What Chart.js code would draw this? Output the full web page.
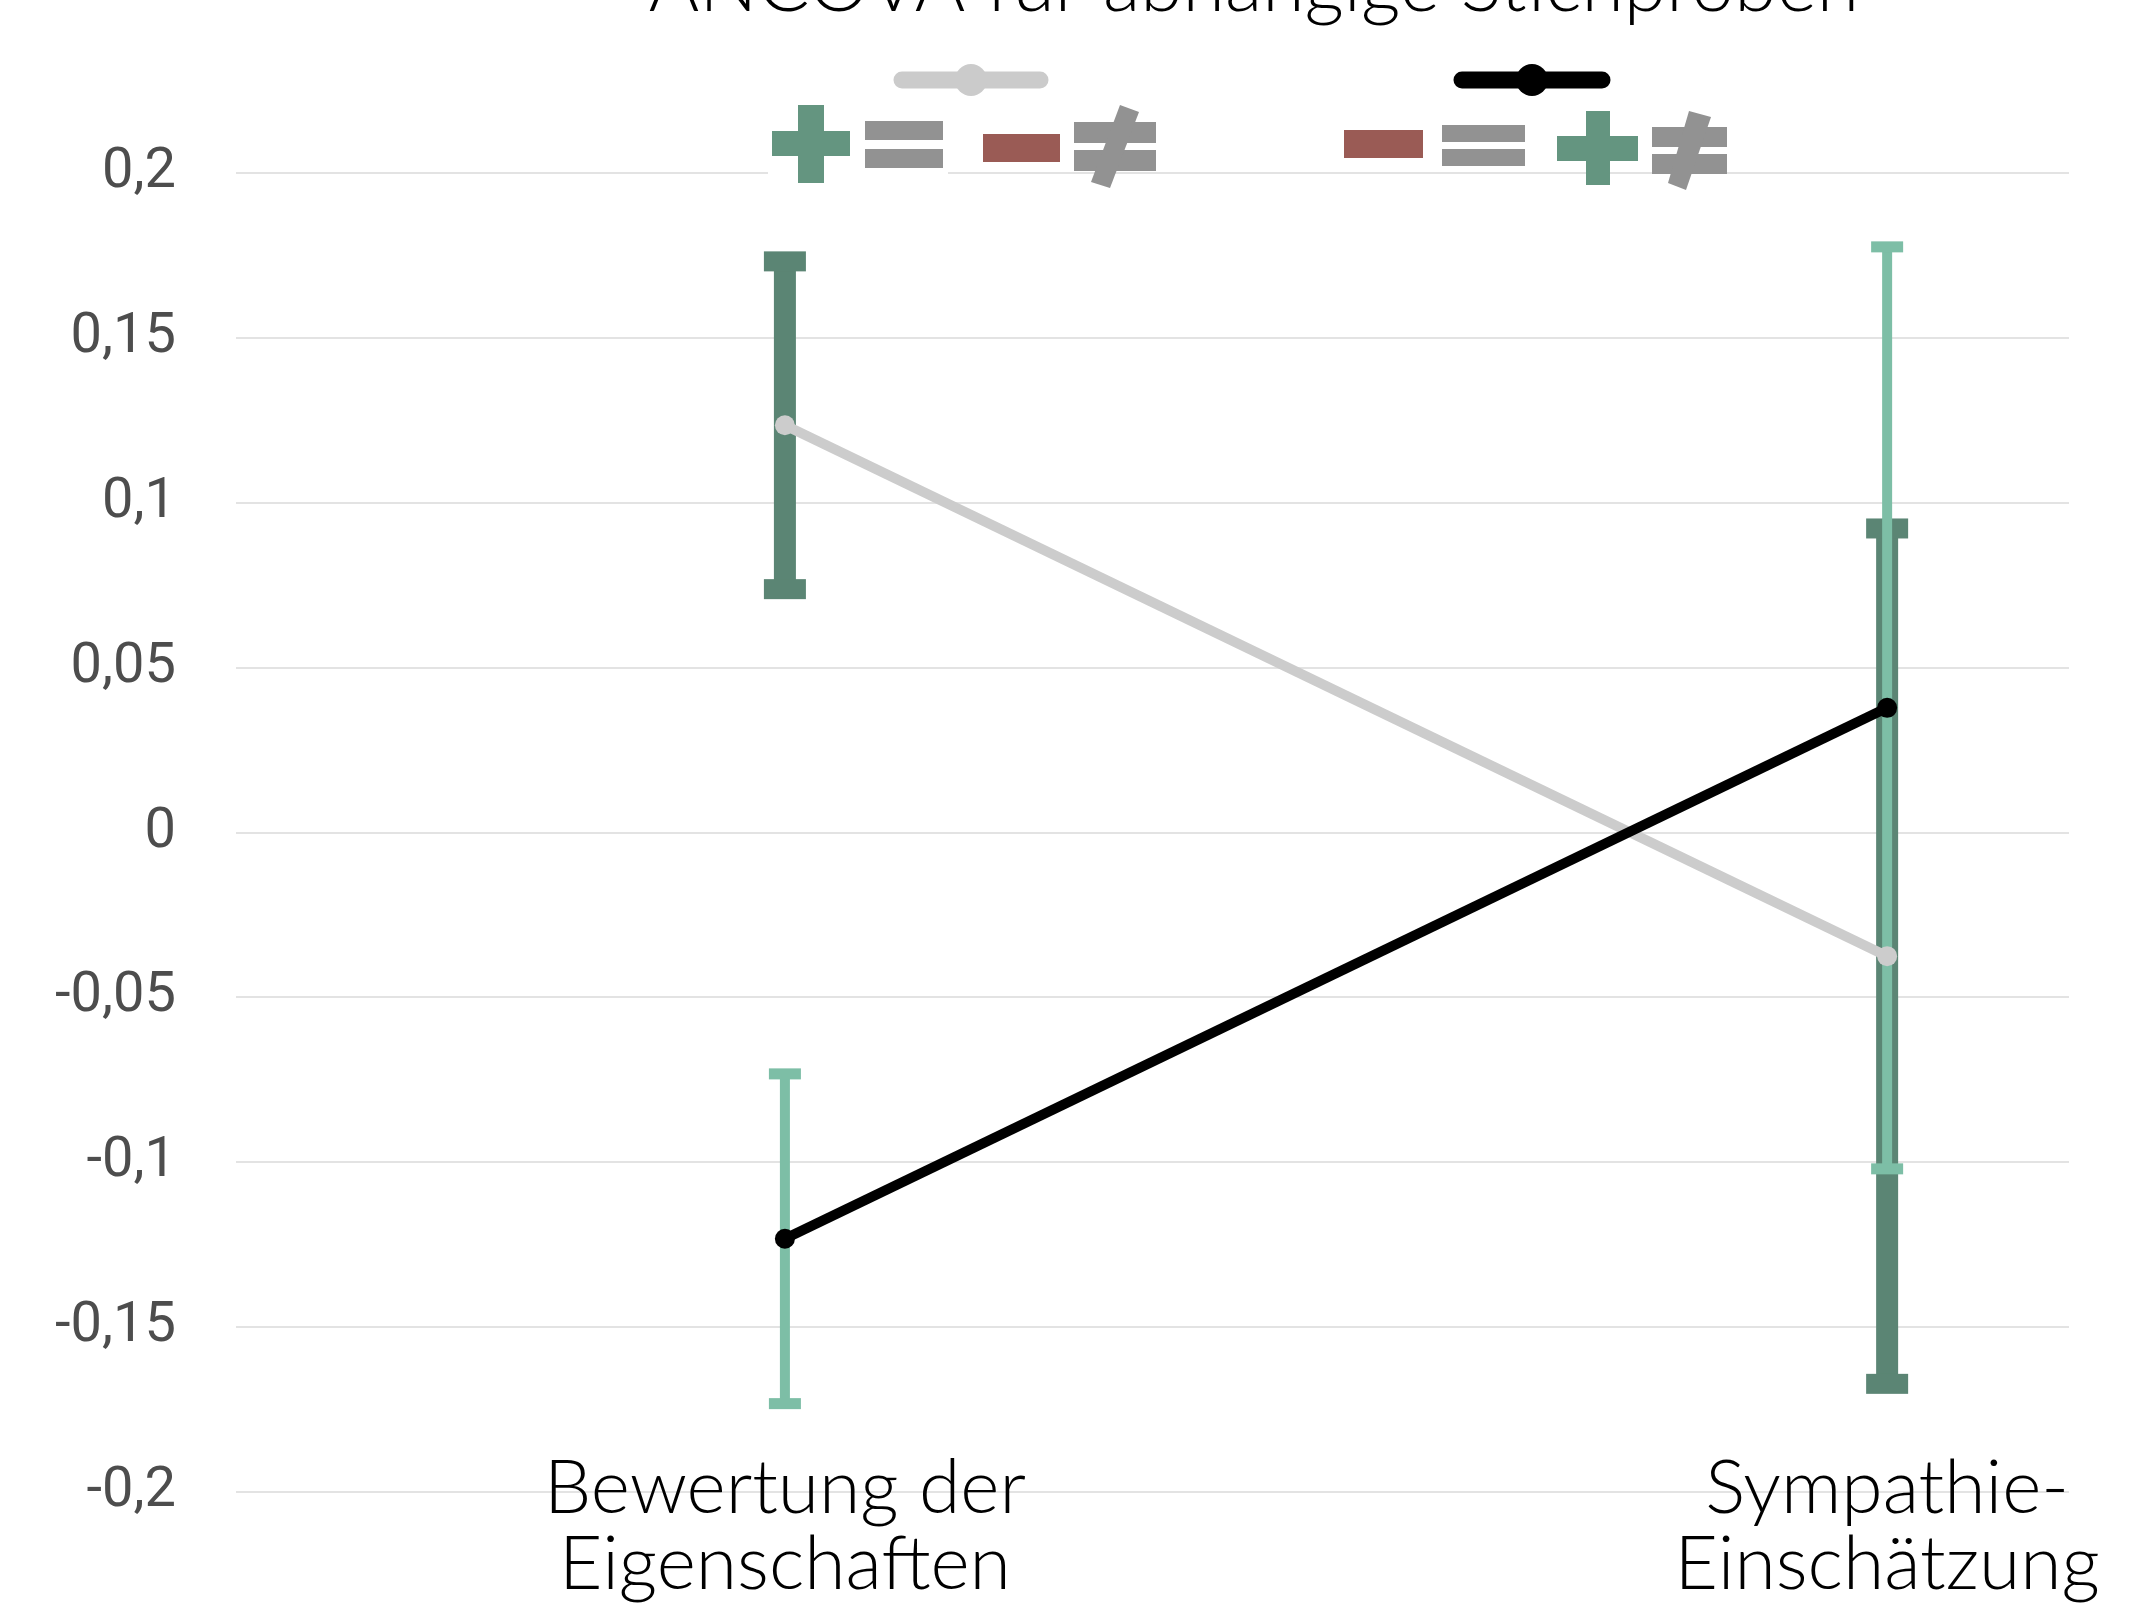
<!DOCTYPE html>
<html>
<head>
<meta charset="utf-8">
<script src="https://cdn.jsdelivr.net/npm/chart.js@4.4.1/dist/chart.umd.min.js"></script>
<style>
  html, body { margin: 0; padding: 0; background: #ffffff; }
  canvas { display: block; }
</style>
</head>
<body>
<canvas id="chart" width="2156" height="1609"></canvas>
<script>
// Categories on the x axis (two-line labels)
const categories = [['Bewertung der', 'Eigenschaften'], ['Sympathie-', 'Einschätzung']];
const titleText = 'ANCOVA für abhängige Stichproben';

// y axis range and tick step
const yMin = -0.2;
const yMax = 0.2;
const yStep = 0.05;

// Light grey series: means and error half-widths
const greyMeans = [0.1235, -0.0375];
const greyErrors = [0.0497, 0.1297];

// Black series: means and error half-widths
const blackMeans = [-0.1232, 0.0378];
const blackErrors = [0.0500, 0.1398];

const toPoints = (vals) => vals.map((v, i) => ({ x: i, y: v }));

// Vertical error bars with flat caps, drawn beneath the lines
const errorBars = {
  id: 'errorBars',
  beforeDatasetsDraw(chart) {
    const { ctx, scales: { x, y } } = chart;
    const groups = [
      { means: greyMeans, errs: greyErrors, color: '#5b8574', bar: 22, capW: 42, capH: 20 },
      { means: blackMeans, errs: blackErrors, color: '#7dbea6', bar: 10, capW: 32, capH: 11 }
    ];
    ctx.save();
    groups.forEach(g => g.means.forEach((m, i) => {
      const px = x.getPixelForValue(i);
      const top = y.getPixelForValue(m + g.errs[i]);
      const bot = y.getPixelForValue(m - g.errs[i]);
      ctx.fillStyle = g.color;
      ctx.fillRect(px - g.bar / 2, top, g.bar, bot - top);
      ctx.fillRect(px - g.capW / 2, top - g.capH / 2, g.capW, g.capH);
      ctx.fillRect(px - g.capW / 2, bot - g.capH / 2, g.capW, g.capH);
    }));
    ctx.restore();
  }
};

// Title and the symbol key above the plot
const header = {
  id: 'header',
  afterDraw(chart) {
    const ctx = chart.ctx;
    ctx.save();

    // title, partly cut by the top edge
    ctx.fillStyle = '#000000';
    ctx.font = '300 77px Lato, "Open Sans", sans-serif';
    ctx.textAlign = 'center';
    ctx.textBaseline = 'alphabetic';
    ctx.fillText(titleText, 1254, 11);

    // line + dot keys
    const lineKey = (x0, x1, yc, color) => {
      ctx.strokeStyle = color;
      ctx.fillStyle = color;
      ctx.lineWidth = 17;
      ctx.lineCap = 'round';
      ctx.beginPath();
      ctx.moveTo(x0 + 8, yc);
      ctx.lineTo(x1 - 8, yc);
      ctx.stroke();
      ctx.beginPath();
      ctx.arc((x0 + x1) / 2, yc, 16, 0, Math.PI * 2);
      ctx.fill();
    };
    lineKey(894, 1048, 80, '#cbcbcb');
    lineKey(1454, 1610, 80, '#000000');

    const green = '#649580', grey = '#929292', red = '#9a5b55';
    const rect = (c, x0, y0, x1, y1) => { ctx.fillStyle = c; ctx.fillRect(x0, y0, x1 - x0, y1 - y0); };
    const poly = (c, pts) => {
      ctx.fillStyle = c;
      ctx.beginPath();
      pts.forEach(([px, py], k) => k ? ctx.lineTo(px, py) : ctx.moveTo(px, py));
      ctx.closePath();
      ctx.fill();
    };

    // first group: + = − ≠
    rect('#ffffff', 768, 100, 948, 186);
    rect(green, 798, 105, 824, 183);
    rect(green, 772, 131, 850, 156);
    rect(grey, 865, 121, 943, 140);
    rect(grey, 865, 149, 943, 168);
    rect(red, 983, 134, 1060, 162);
    rect(grey, 1074, 122, 1156, 143);
    rect(grey, 1074, 150, 1156, 171);
    poly(grey, [[1120, 105], [1139, 112], [1110, 188], [1091, 182]]);

    // second group: − = + ≠
    rect(red, 1344, 130, 1423, 158);
    rect(grey, 1442, 125, 1525, 142);
    rect(grey, 1442, 149, 1525, 166);
    rect(green, 1586, 111, 1610, 185);
    rect(green, 1557, 136, 1638, 161);
    rect(grey, 1652, 127, 1727, 147);
    rect(grey, 1652, 154, 1727, 174);
    poly(grey, [[1689, 111], [1711, 117], [1686, 190], [1668, 183]]);

    ctx.restore();
  }
};

new Chart(document.getElementById('chart'), {
  type: 'line',
  data: {
    datasets: [
      {
        label: 'hell',
        data: toPoints(greyMeans),
        borderColor: '#cccccc',
        backgroundColor: '#cccccc',
        borderWidth: 10,
        pointRadius: 10,
        pointBorderWidth: 0,
        order: 2
      },
      {
        label: 'schwarz',
        data: toPoints(blackMeans),
        borderColor: '#000000',
        backgroundColor: '#000000',
        borderWidth: 10,
        pointRadius: 10,
        pointBorderWidth: 0,
        order: 1
      }
    ]
  },
  options: {
    responsive: false,
    animation: false,
    layout: { padding: { top: 173, right: 87, left: 0, bottom: 0 } },
    plugins: {
      legend: { display: false },
      tooltip: { enabled: false },
      title: { display: false }
    },
    scales: {
      x: {
        type: 'linear',
        min: -0.498,
        max: 1.165,
        grid: { display: false, drawTicks: false },
        border: { display: false },
        afterBuildTicks(scale) {
          scale.ticks = categories.map((c, i) => ({ value: i }));
        },
        afterFit(scale) { scale.height = 117; },
        ticks: {
          autoSkip: false,
          mirror: true,
          maxRotation: 0,
          padding: -35,
          color: '#000000',
          font: { family: 'Lato, "Open Sans", sans-serif', size: 75, weight: '300', lineHeight: 1.02 },
          callback: (v) => categories[Math.round(v)]
        }
      },
      y: {
        min: yMin,
        max: yMax,
        grid: { color: '#e3e3e3', lineWidth: 2, drawTicks: false },
        border: { display: false },
        afterFit(scale) { scale.width = 236; },
        ticks: {
          stepSize: yStep,
          padding: 60,
          color: '#4d4d4d',
          font: { family: 'Roboto, "Liberation Sans", sans-serif', size: 56 },
          callback: (v) => String(Math.round(v * 100) / 100).replace('.', ',')
        }
      }
    }
  },
  plugins: [errorBars, header]
});
</script>
</body>
</html>
